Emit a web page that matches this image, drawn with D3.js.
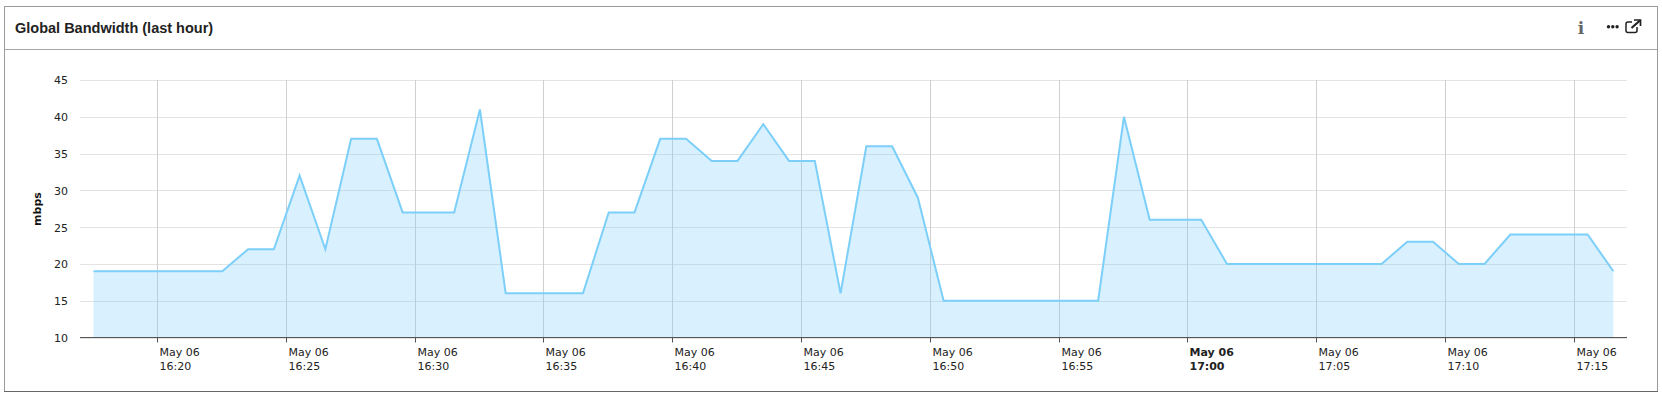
<!DOCTYPE html>
<html>
<head>
<meta charset="utf-8">
<script src="https://cdn.jsdelivr.net/npm/d3@7"></script>
<style>
  html, body { margin: 0; padding: 0; background: #fff; overflow: hidden; }
  text { font-family: "DejaVu Sans", sans-serif; font-size: 11px; fill: #222; }
</style>
</head>
<body>
<svg id="plot"></svg>
<script>
// one sample per minute, in mbps
const bandwidth = [19, 19, 19, 19, 19, 19, 22, 22, 32, 22,
    37, 37, 27, 27, 27, 41, 16, 16, 16, 16,
    27, 27, 37, 37, 34, 34, 39, 34, 34, 16,
    36, 36, 29, 15, 15, 15, 15, 15, 15, 15,
    40, 26, 26, 26, 20, 20, 20, 20, 20, 20,
    20, 23, 23, 20, 20, 24, 24, 24, 24, 19];
const startTime = Date.UTC(2016, 4, 6, 16, 17, 31);
const minute = 60000;
const yTicks = [10, 15, 20, 25, 30, 35, 40, 45];
const xTicks = ["16:20", "16:25", "16:30", "16:35", "16:40", "16:45",
    "16:50", "16:55", "17:00", "17:05", "17:10", "17:15"];
const tickDate = "May 06";
const title = "Global Bandwidth (last hour)";
const yLabel = "mbps";

let width = 1662;
let height = 396;
let plot = {left: 80, right: 1627, top: 80, bottom: 337.5};

let svg = d3.select("#plot")
    .attr("width", width)
    .attr("height", height)
    .style("display", "block");

let toDate = s => {
    let p = s.split(":");
    return Date.UTC(2016, 4, 6, +p[0], +p[1]);
};
let tickX = s => Math.floor(x(toDate(s))) + 0.5;

// 5 minutes = 128.8px, scale is anchored on the 16:20 tick
let x = d3.scaleUtc()
    .domain([toDate("16:20"), toDate("17:15")])
    .range([157.5, 157.5 + 128.8 * 11]);
let y = d3.scaleLinear()
    .domain([10, 45])
    .range([plot.bottom, plot.top]);

let points = bandwidth.map((v, i) => ({t: startTime + i * minute, v: v}));

// panel frame and header
svg.append("rect")
    .attr("x", 4.5).attr("y", 6.5)
    .attr("width", 1653).attr("height", 385)
    .attr("fill", "#fff")
    .attr("stroke", "#9a9a9a");
svg.append("line")
    .attr("x1", 4).attr("x2", 1658)
    .attr("y1", 391.5).attr("y2", 391.5)
    .attr("stroke", "#666");
svg.append("line")
    .attr("x1", 5).attr("x2", 1657)
    .attr("y1", 49.5).attr("y2", 49.5)
    .attr("stroke", "#a6a6a6");
svg.append("text")
    .attr("x", 15).attr("y", 33)
    .style("font-family", "'Liberation Sans', Arial, sans-serif")
    .style("font-size", "14.5px")
    .style("font-weight", "bold")
    .text(title);

// header icons
svg.append("text")
    .attr("x", 1581).attr("y", 34)
    .attr("text-anchor", "middle")
    .style("font-family", "'DejaVu Serif', serif")
    .style("font-size", "17px")
    .style("font-weight", "bold")
    .style("fill", "#666")
    .text("i");
svg.selectAll(".dot")
    .data([0, 1, 2])
    .enter()
    .append("circle")
    .attr("class", "dot")
    .attr("cx", d => 1608.5 + d * 4.3)
    .attr("cy", 26.7)
    .attr("r", 1.7)
    .attr("fill", "#222");
let ext = svg.append("g")
    .attr("fill", "none")
    .attr("stroke", "#222");
ext.append("path")
    .attr("d", "M1632 22h-4a2 2 0 0 0-2 2v6.500a2 2 0 0 0 2 2h7a2 2 0 0 0 2-2v-3.500")
    .attr("stroke-width", 1.5);
ext.append("path")
    .attr("d", "M1631.500 28L1640 20.500")
    .attr("stroke-width", 2.2);
ext.append("path")
    .attr("d", "M1634 20h6.500v6")
    .attr("stroke-width", 1.7);

// gridlines
svg.selectAll(".hgrid")
    .data(yTicks)
    .enter()
    .append("line")
    .attr("class", "hgrid")
    .attr("x1", plot.left).attr("x2", plot.right)
    .attr("y1", d => Math.round(y(d)) + 0.5)
    .attr("y2", d => Math.round(y(d)) + 0.5)
    .attr("stroke", "#e3e3e3");
svg.selectAll(".vgrid")
    .data(xTicks)
    .enter()
    .append("line")
    .attr("class", "vgrid")
    .attr("x1", tickX)
    .attr("x2", tickX)
    .attr("y1", plot.top).attr("y2", plot.bottom)
    .attr("stroke", "#cfcfcf");

// series
let area = d3.area()
    .x(d => x(d.t))
    .y0(plot.bottom)
    .y1(d => y(d.v));
let line = d3.line()
    .x(d => x(d.t))
    .y(d => y(d.v));

svg.append("path")
    .datum(points)
    .attr("d", area)
    .attr("fill", "#7cd0ff")
    .attr("fill-opacity", 0.29);
svg.append("path")
    .datum(points)
    .attr("d", line)
    .attr("fill", "none")
    .attr("stroke", "#7ccff9")
    .attr("stroke-width", 2);

// axes
let yAxis = svg.append("g")
    .attr("transform", "translate(80,0)")
    .call(d3.axisLeft(y).tickValues(yTicks).tickSize(0).tickPadding(12));
yAxis.select(".domain").remove();
yAxis.selectAll("text").attr("dy", "0.36em");

svg.append("text")
    .attr("transform", "translate(41,209) rotate(-90)")
    .attr("text-anchor", "middle")
    .style("font-weight", "bold")
    .style("fill", "#111")
    .text(yLabel);

svg.append("line")
    .attr("x1", plot.left).attr("x2", plot.right)
    .attr("y1", 337.5).attr("y2", 337.5)
    .attr("stroke", "#555");

let xAxis = svg.append("g")
    .attr("transform", "translate(0,337.5)")
    .call(d3.axisBottom(x).tickValues(xTicks.map(toDate)).tickSize(5));
xAxis.select(".domain").remove();
xAxis.selectAll("line").attr("stroke", "#555");

let ticks = xAxis.selectAll(".tick")
    .data(xTicks)
    .attr("transform", d => "translate(" + tickX(d) + ",0)");
ticks.select("text").remove();
ticks.append("text")
    .attr("x", 2).attr("y", 18.5)
    .attr("text-anchor", "start")
    .style("font-weight", d => d === "17:00" ? "bold" : "normal")
    .text(tickDate);
ticks.append("text")
    .attr("x", 2).attr("y", 32)
    .attr("text-anchor", "start")
    .style("font-weight", d => d === "17:00" ? "bold" : "normal")
    .text(d => d);
</script>
</body>
</html>
